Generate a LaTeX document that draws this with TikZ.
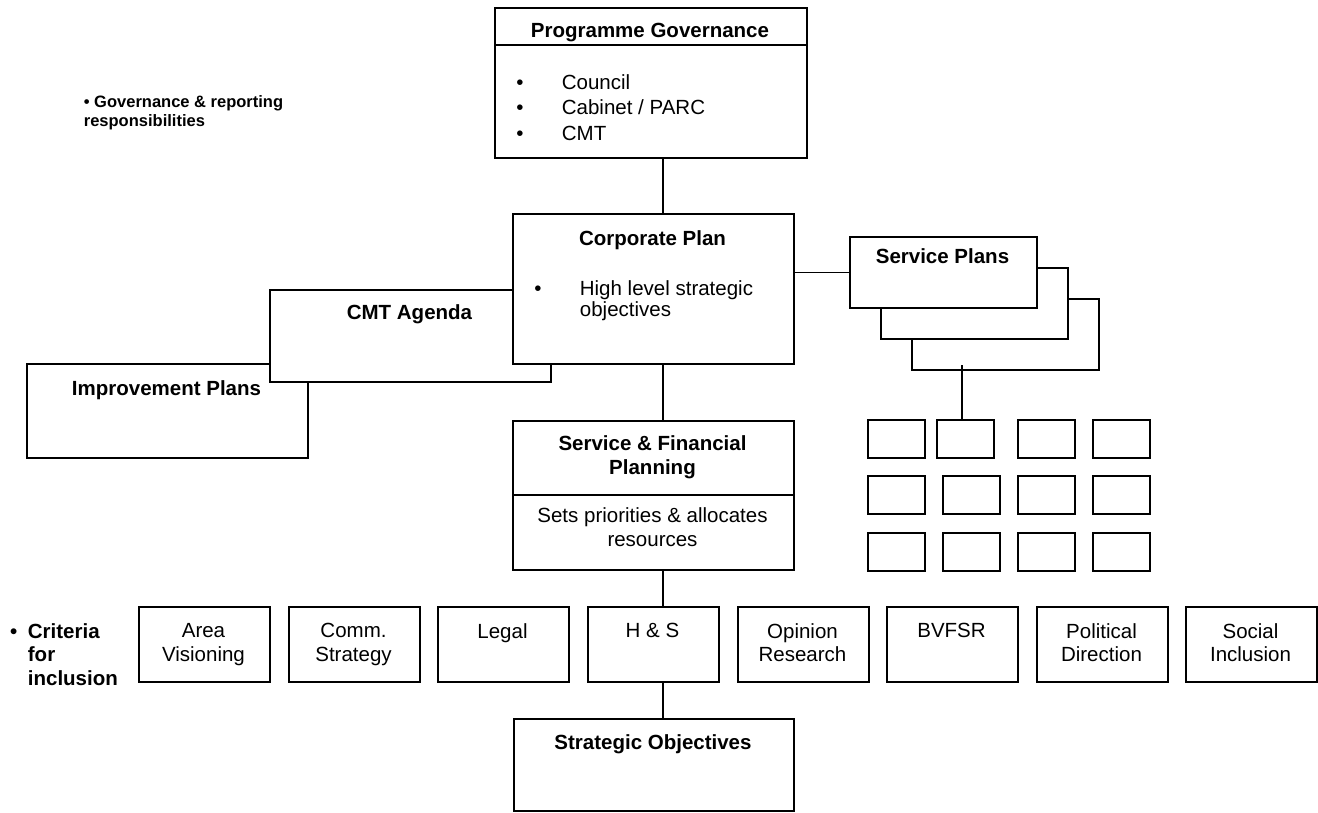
\documentclass[tikz,border=0pt]{standalone}
\usepackage{fontspec}
\setmainfont{Liberation Sans}
\newcommand{\mfs}{\fontsize{20.5pt}{23.5pt}\selectfont}
\newcommand{\mfb}{\fontsize{20.5pt}{23.5pt}\selectfont\bfseries}
\begin{document}
\begin{tikzpicture}[x=1pt,y=-1pt,line width=1.8pt,
  box/.style={draw,fill=white,inner sep=0,anchor=north west},
  tx/.style={inner sep=0,anchor=north,yshift=7.4pt,align=center,font=\mfs},
  txb/.style={tx,font=\mfb},
  crit/.style={box,minimum width=131pt,minimum height=75pt},
  small/.style={box,minimum width=57pt,minimum height=38pt},
  spl/.style={box,minimum width=187pt,minimum height=71pt}]
\useasboundingbox (0,0) rectangle (1318,812);
% boxes
\node[box,minimum width=312pt,minimum height=150pt] (pg) at (494,7) {};
\draw ([yshift=-38pt]pg.north west) -- ([yshift=-38pt]pg.north east);
\node[box,minimum width=281pt,minimum height=94pt] (imp) at (26,363) {};
\node[box,minimum width=281pt,minimum height=92pt] (cmt) at (269,289) {};
\node[box,minimum width=281pt,minimum height=150pt] (cp) at (512,213) {};
\node[spl] (sp3) at (911,298) {};
\node[spl] (sp2) at (880,267) {};
\node[spl] (sp1) at (849,236) {};
\node[box,minimum width=281pt,minimum height=149pt] (sfp) at (512,420) {};
\draw ([yshift=-75pt]sfp.north west) -- ([yshift=-75pt]sfp.north east);
\node[box,minimum width=280pt,minimum height=92pt] (so) at (513,718) {};
% grid
\node[small] (g11) at (867,419) {};
\node[small] (g12) at (936,419) {};
\node[small] (g13) at (1017,419) {};
\node[small] (g14) at (1092,419) {};
\node[small] (g21) at (867,475) {};
\node[small] (g22) at (942,475) {};
\node[small] (g23) at (1017,475) {};
\node[small] (g24) at (1092,475) {};
\node[small] (g31) at (867,532) {};
\node[small] (g32) at (942,532) {};
\node[small] (g33) at (1017,532) {};
\node[small] (g34) at (1092,532) {};
% criteria
\node[crit] (c1) at (138,606) {};
\node[crit] (c2) at (288,606) {};
\node[crit] (c3) at (437,606) {};
\node[crit] (c4) at (587,606) {};
\node[crit] (c5) at (737,606) {};
\node[crit] (c6) at (886,606) {};
\node[crit] (c7) at (1036,606) {};
\node[crit] (c8) at (1185,606) {};
% connectors
\draw ([xshift=9.5pt]cp.north) -- ([xshift=9.5pt]cp.north |- pg.south);
\draw ([xshift=9.5pt]cp.south) -- ([xshift=9.5pt]cp.south |- sfp.north);
\draw ([xshift=9.5pt]sfp.south) -- ([xshift=9.5pt]sfp.south |- c4.north);
\draw ([xshift=9.5pt]c4.south) -- ([xshift=9.5pt]c4.south |- so.north);
\draw (sp1.west) -- (sp1.west -| cp.east);
\draw ([xshift=-3.5pt]g12.north) -- ([xshift=-3.5pt,yshift=6pt]g12.north |- sp3.south);
% texts
\node[txb] (pgt) at (650,30) {Programme Governance};
\node[inner sep=0,anchor=north west,align=left,font=\fontsize{20.5pt}{25.5pt}\selectfont] (pgl) at (515.4,73.6)
  {\makebox[45.6pt][l]{•}Council\\\makebox[45.6pt][l]{•}Cabinet / PARC\\\makebox[45.6pt][l]{•}CMT};
\node[txb] (cpt) at (652.5,237) {Corporate Plan};
\node[inner sep=0,anchor=north west,align=left,font=\fontsize{20.5pt}{21pt}\selectfont] (cpl) at (533.4,279.6)
  {\makebox[45.6pt][l]{•}High level strategic\\\hspace*{45.6pt}objectives};
\node[txb] (cmtt) at (409.5,311.5) {CMT Agenda};
\node[txb] (impt) at (166.5,387.5) {Improvement Plans};
\node[txb] (spt) at (942.5,255) {Service Plans};
\node[txb] (sfpt) at (652.5,442.5) {Service \& Financial\\Planning};
\node[tx] (sfpb) at (652.5,514.5) {Sets priorities \& allocates\\resources};
\node[txb] (sot) at (653,741) {Strategic Objectives};
\node[tx] (t1) at (203.5,630) {Area\\Visioning};
\node[tx] (t2) at (353.5,630) {Comm.\\Strategy};
\node[tx] (t3) at (502.5,630) {Legal};
\node[tx] (t4) at (652.5,630) {H \& S};
\node[tx] (t5) at (802.5,630) {Opinion\\Research};
\node[tx] (t6) at (951.5,630) {BVFSR};
\node[tx] (t7) at (1101.5,630) {Political\\Direction};
\node[tx] (t8) at (1250.5,630) {Social\\Inclusion};
\node[inner sep=0,anchor=north west,align=left,font=\mfb] (crl) at (9.1,622.6)
  {\makebox[17.9pt][l]{•}Criteria\\\hspace*{17.9pt}for\\\hspace*{17.9pt}inclusion};
\node[inner sep=0,anchor=north west,align=left,font=\fontsize{16.5pt}{18.5pt}\selectfont\bfseries] (gov) at (83,95.1)
  {• Governance \& reporting\\responsibilities};
\end{tikzpicture}
\end{document}
